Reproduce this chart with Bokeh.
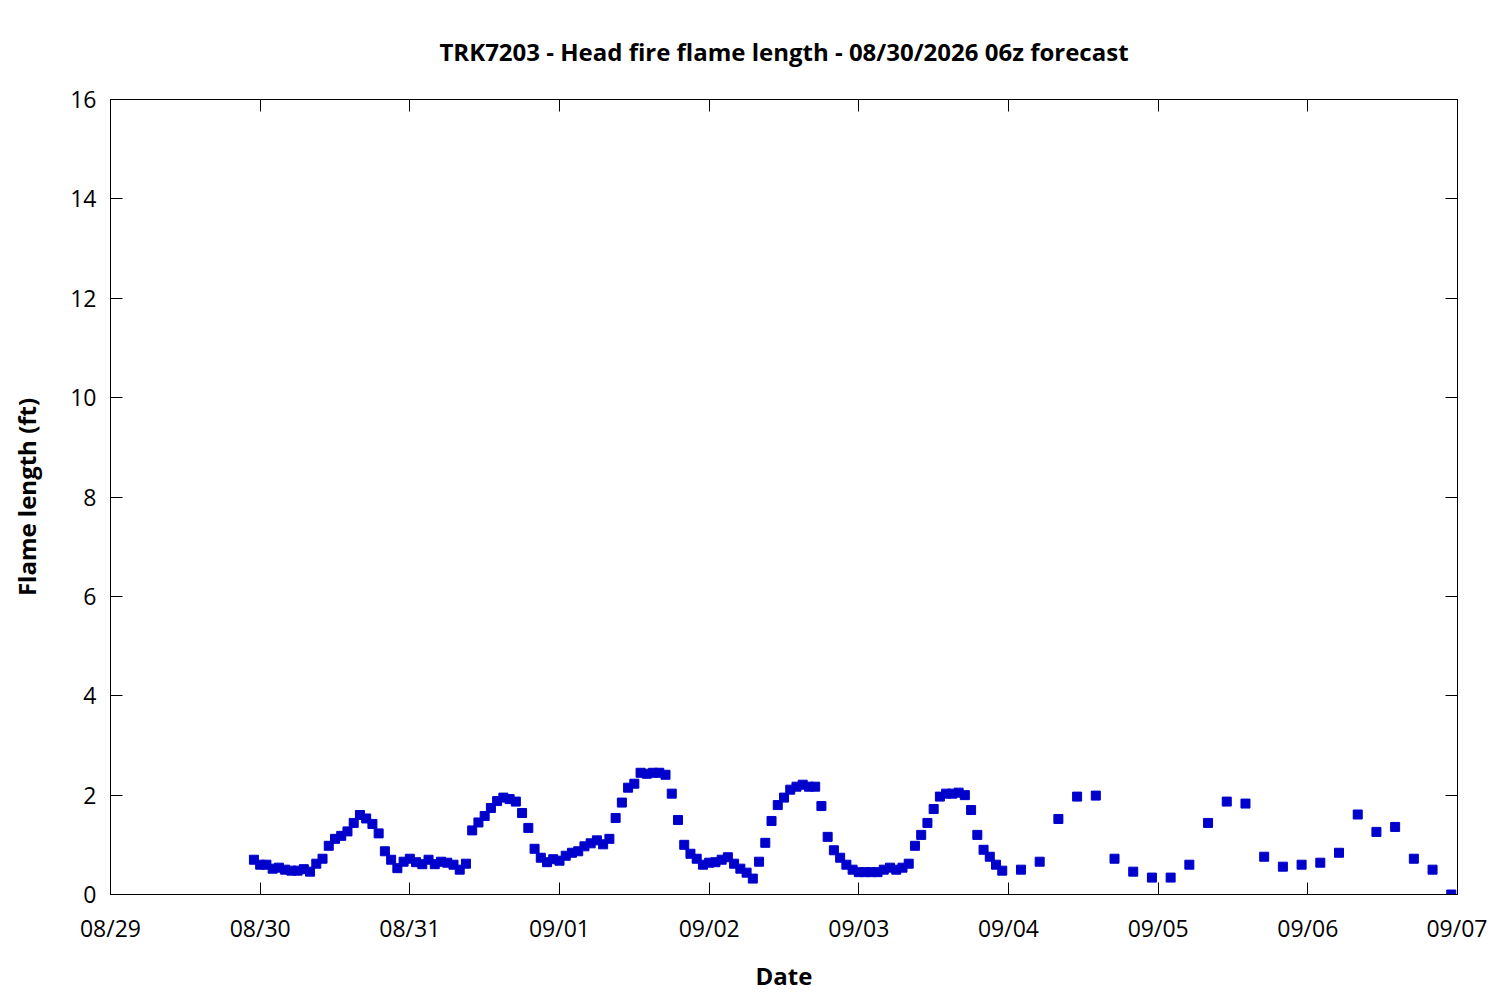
import pandas as pd
from bokeh.plotting import figure
from bokeh.models import (FixedTicker, DatetimeAxis, LinearAxis, DatetimeTickFormatter,
                          Range1d, ColumnDataSource, CustomJSTickFormatter)
from bokeh.embed import file_html
from bokeh.resources import INLINE

title_text = "TRK7203 - Head fire flame length - 08/30/2026 06z forecast"
x_label = "Date"
y_label = "Flame length (ft)"

# hourly values, 08/29 23:00 .. 09/03 23:00
hourly_start = "2026-08-29 23:00"
hourly_values = [
    0.70, 0.60, 0.60, 0.52, 0.54, 0.50, 0.48, 0.48, 0.51, 0.46,
    0.62, 0.72, 0.98, 1.12, 1.18, 1.27, 1.44, 1.60, 1.53, 1.42,
    1.23, 0.87, 0.70, 0.53, 0.66, 0.72, 0.65, 0.61, 0.70, 0.61,
    0.66, 0.64, 0.60, 0.50, 0.62, 1.29, 1.45, 1.58, 1.74, 1.88,
    1.95, 1.92, 1.87, 1.64, 1.34, 0.92, 0.74, 0.65, 0.71, 0.68,
    0.78, 0.84, 0.87, 0.97, 1.03, 1.09, 1.01, 1.12, 1.54, 1.85,
    2.15, 2.23, 2.45, 2.43, 2.45, 2.45, 2.41, 2.03, 1.50, 1.00,
    0.82, 0.72, 0.60, 0.64, 0.65, 0.70, 0.75, 0.62, 0.52, 0.44,
    0.32, 0.66, 1.04, 1.48, 1.80, 1.95, 2.11, 2.17, 2.21, 2.17,
    2.17, 1.78, 1.16, 0.89, 0.74, 0.60, 0.50, 0.45, 0.45, 0.45,
    0.45, 0.50, 0.54, 0.50, 0.54, 0.62, 0.98, 1.20, 1.44, 1.72,
    1.97, 2.03, 2.03, 2.05, 2.00, 1.70, 1.20, 0.90, 0.76, 0.60, 0.48,
]
# 3-hourly values, 09/04 02:00 .. 09/06 23:00
three_hourly_start = "2026-09-04 02:00"
three_hourly_values = [
    0.50, 0.66, 1.52, 1.97, 1.99, 0.72, 0.46, 0.34, 0.34, 0.60, 1.44, 1.87,
    1.83, 0.76, 0.56, 0.60, 0.64, 0.84, 1.61, 1.26, 1.36, 0.72, 0.50, 0.00,
]

tick_days = list(pd.date_range("2026-08-29", "2026-09-07", freq="D"))
y_ticks = [0, 2, 4, 6, 8, 10, 12, 14, 16]

times = list(pd.date_range(hourly_start, periods=len(hourly_values), freq="h")) + \
        list(pd.date_range(three_hourly_start, periods=len(three_hourly_values), freq="3h"))
values = hourly_values + three_hourly_values
src = ColumnDataSource(dict(t=times, v=values))

FONT = "Open Sans"
p = figure(x_axis_type="datetime", output_backend="svg", toolbar_location=None,
           frame_width=1347, frame_height=795,
           min_border_left=110, min_border_top=99, min_border_right=30, min_border_bottom=90,
           x_range=Range1d(tick_days[0], tick_days[-1]), y_range=Range1d(0, 16))

p.title.text = title_text
p.title.align = "center"
p.title.text_font = FONT
p.title.text_font_size = "24px"
p.title.text_font_style = "bold"
p.title.text_color = "black"
p.title.standoff = 64

p.grid.visible = False
p.outline_line_color = "black"
p.outline_line_width = 1
p.background_fill_color = "white"
p.border_fill_color = "white"

xt = FixedTicker(ticks=[d.timestamp() * 1000 for d in tick_days])
yt = FixedTicker(ticks=y_ticks)
fmt = DatetimeTickFormatter(days="%m/%d", months="%m/%d", hours="%m/%d")
blank = CustomJSTickFormatter(code="return '';")

for ax in p.xaxis:
    ax.ticker = xt
    ax.formatter = fmt
    ax.axis_label = x_label
for ax in p.yaxis:
    ax.ticker = yt
    ax.axis_label = y_label

def style(ax):
    ax.major_tick_in = 12
    ax.major_tick_out = 0
    ax.minor_tick_line_color = None
    ax.axis_line_color = "black"
    ax.major_tick_line_color = "black"
    ax.major_label_text_font = FONT
    ax.major_label_text_font_size = "23px"
    ax.major_label_text_color = "black"
    ax.axis_label_text_font = FONT
    ax.axis_label_text_font_size = "24px"
    ax.axis_label_text_font_style = "bold"
    ax.axis_label_text_color = "black"

for ax in p.xaxis:
    style(ax)
    ax.major_label_standoff = 17
    ax.axis_label_standoff = 12
for ax in p.yaxis:
    style(ax)
    ax.major_label_standoff = 14
    ax.axis_label_standoff = 24

top = DatetimeAxis(ticker=xt, formatter=blank)
style(top)
top.major_label_standoff = 0
p.add_layout(top, "above")
right = LinearAxis(ticker=yt, formatter=blank)
style(right)
right.major_label_standoff = 0
p.add_layout(right, "right")

p.scatter("t", "v", source=src, marker="square", size=9, color="#0000cc")

open("out.html", "w").write(file_html(p, INLINE))
